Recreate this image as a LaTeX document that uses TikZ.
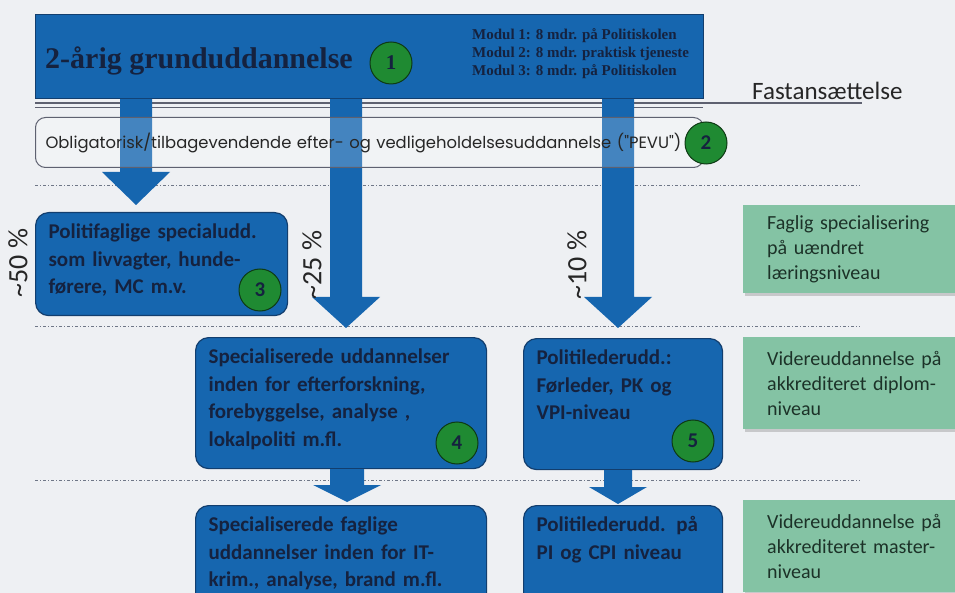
\documentclass[tikz,border=0pt]{standalone}
\usepackage{fontspec}
\setmainfont{Carlito}
\newfontfamily\titlefont{Liberation Serif}
\newfontfamily\pevufont{Poppins}
\usetikzlibrary{calc}
\usetikzlibrary{positioning}
\usetikzlibrary{shadows}

\definecolor{bgcol}{HTML}{EEF0F3}
\definecolor{boxblue}{HTML}{1666AF}
\definecolor{boxline}{HTML}{123E6E}
\definecolor{navy}{HTML}{15223F}
\definecolor{dotgreen}{HTML}{1F8A32}
\definecolor{dotline}{HTML}{0E3A14}
\definecolor{mintbox}{HTML}{84C3A4}
\definecolor{minttext}{HTML}{1C3228}
\definecolor{dashcol}{HTML}{6F7787}
\definecolor{rulecol}{HTML}{5E6170}

\tikzset{
  blubox/.style={draw=boxline, fill=boxblue, line width=1.2pt, rounded corners=13pt,
    anchor=north west, align=left, inner xsep=13pt, inner ysep=11pt, text height=15pt,
    font=\fontsize{21}{27.5}\selectfont\bfseries, text=navy},
  mintnote/.style={fill=mintbox, anchor=north west, align=left, inner xsep=24pt,
    inner ysep=10pt, text height=14pt, text width=180pt,
    font=\fontsize{20}{25}\selectfont, text=minttext,
    drop shadow={shadow xshift=2pt, shadow yshift=-3pt, opacity=0.35}},
  numdot/.style={circle, draw=dotline, fill=dotgreen, line width=1pt, minimum size=42pt,
    inner sep=0pt, font=\fontsize{21}{21}\selectfont\bfseries, text=navy},
  pct/.style={rotate=90, font=\fontsize{28}{28}\selectfont, text=black!85},
  sepline/.style={draw=dashcol, line width=0.8pt, dash pattern=on 3pt off 2pt on 1pt off 2pt},
  arrowfill/.style={fill=boxblue}
}

% blokpil: fra, til, halv skaftbredde, halv hovedbredde, hovedlaengde
\newcommand{\blockarr}[5]{%
  \fill[arrowfill] ($(#1)+(-#3,0)$) -- ($(#2)+(-#3,-#5)$) -- ($(#2)+(-#4,-#5)$) -- (#2)
    -- ($(#2)+(#4,-#5)$) -- ($(#2)+(#3,-#5)$) -- ($(#1)+(#3,0)$) -- cycle;}

\begin{document}
\begin{tikzpicture}[x=1pt, y=-1pt]
    \useasboundingbox (0,0) rectangle (955,593);
    \fill[bgcol] (0,0) rectangle (955,593);

    % Skillelinjer
    \draw[rulecol, line width=1.2pt] (35,103) -- (862,103);
    \draw[rulecol, line width=1pt] (35,108) -- (703,108);
    \draw[sepline] (35,185) -- (860,185);
    \draw[sepline] (35,326) -- (860,326);
    \draw[sepline] (35,480) -- (860,480);

    % Grunduddannelse
    \node[draw=boxline, fill=boxblue, line width=1pt, anchor=north west,
          minimum width=668pt, minimum height=84pt, inner sep=0pt] (grund) at (35,14) {};

    % Bokse
    \node[blubox, text width=226pt, text depth=66pt] (spec) at (35,212)
        {Politifaglige specialudd.\\som livvagter, hunde-\\førere, MC m.v.};
    \node[blubox, text width=265pt, text depth=94pt] (deep) at (195,337)
        {Specialiserede uddannelser\\inden for efterforskning,\\forebyggelse, analyse ,\\lokalpoliti m.fl.};
    \node[blubox, text width=173pt, text depth=94pt] (leder) at (523,338)
        {Politilederudd.:\\Førleder, PK og\\VPI-niveau};
    \node[blubox, text width=265pt, text depth=72pt] (fag) at (195,505)
        {Specialiserede faglige\\uddannelser inden for IT-\\krim., analyse, brand m.fl.};
    \node[blubox, text width=173pt, text depth=72pt] (master) at (523,505)
        {Politilederudd. på\\PI og CPI niveau};

    % Pile
    \coordinate (xa) at (136,0);
    \coordinate (xb) at (346,0);
    \coordinate (xc) at (618,0);
    \coordinate (xd) at (347,0);
    \coordinate (xe) at (618,0);
    \coordinate (tipa) at ($(spec.north -| xa)+(0,-7)$);
    \coordinate (tipb) at ($(deep.north -| xb)+(0,-9)$);
    \coordinate (tipc) at ($(leder.north -| xc)+(0,-10)$);
    \coordinate (tipd) at ($(fag.north -| xd)+(0,-3)$);
    \coordinate (tipe) at ($(master.north -| xe)+(0,-1)$);
    \blockarr{grund.south -| xa}{tipa}{16}{34}{33}
    \blockarr{grund.south -| xb}{tipb}{16}{34}{31}
    \blockarr{grund.south -| xc}{tipc}{16}{34}{31}
    \blockarr{deep.south -| xd}{tipd}{17}{34}{17}
    \blockarr{leder.south -| xe}{tipe}{14}{29}{17}

    % PEVU
    \node[draw=rulecol, line width=1pt, fill=white, fill opacity=0.2, text opacity=1,
          rounded corners=10pt, anchor=north west, minimum width=668pt, minimum height=50pt,
          text width=648pt, align=left, inner xsep=10pt,
          font=\pevufont\fontsize{16.4}{18}\selectfont, text=black!85] (pevu) at (35,117)
        {Obligatorisk/tilbagevendende efter- og vedligeholdelsesuddannelse ("PEVU")};
    \node[numdot] (n2) at (706,143) {2};

    % Tekst i grundboksen
    \node[anchor=base west, inner sep=0pt, font=\titlefont\fontsize{30}{30}\selectfont\bfseries,
          text=navy] (titel) at (45,69) {2-årig grunduddannelse};
    \node[numdot, font=\titlefont\fontsize{21}{21}\selectfont\bfseries] (n1) at (391,63) {1};
    \node[anchor=north west, inner sep=0pt, align=left, text=navy,
          font=\titlefont\fontsize{15}{18}\selectfont\bfseries] (modul) at (472,28)
        {Modul 1: 8 mdr. på Politiskolen\\Modul 2: 8 mdr. praktisk tjeneste\\Modul 3: 8 mdr. på Politiskolen};
    \node[anchor=base west, inner sep=0pt, font=\fontsize{25}{25}\selectfont, text=black!85]
        (fast) at (752,100) {Fastansættelse};

    % Numre
    \node[numdot] (n3) at (260,290) {3};
    \node[numdot] (n4) at (457,443) {4};
    \node[numdot] (n5) at (693,441) {5};

    % Procenter
    \node[pct] (p50) at (18,263) {\textasciitilde50 \%};
    \node[pct] (p25) at (312,265) {\textasciitilde25 \%};
    \node[pct] (p10) at (577,265) {\textasciitilde10 \%};

    % Niveauer
    \node[mintnote, minimum height=85pt] (niv1) at (743,205)
        {Faglig specialisering\\på uændret\\læringsniveau};
    \node[mintnote, minimum height=92pt] (niv2) at (743,337)
        {Videreuddannelse på\\akkrediteret diplom-\\niveau};
    \node[mintnote, minimum height=92pt] (niv3) at (743,500)
        {Videreuddannelse på\\akkrediteret master-\\niveau};
\end{tikzpicture}
\end{document}
